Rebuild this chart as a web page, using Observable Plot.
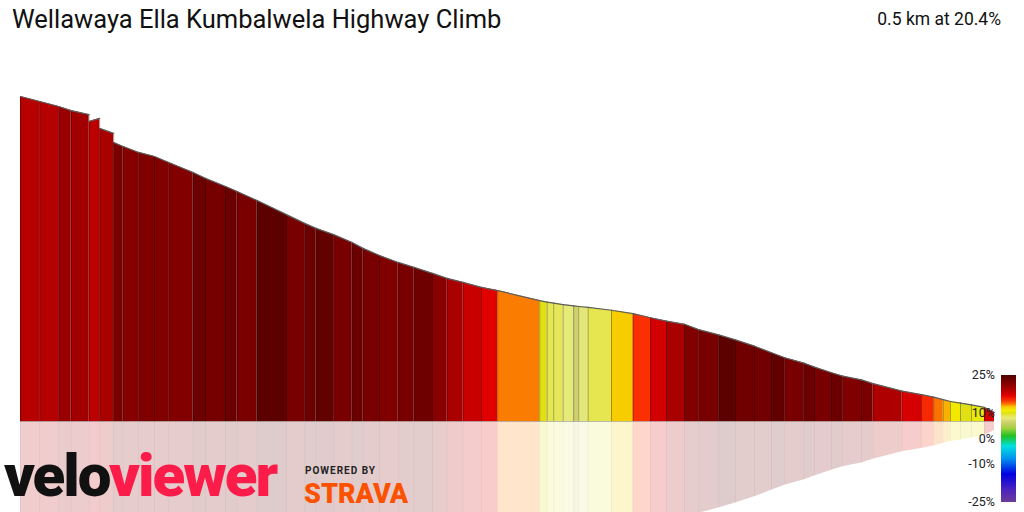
<!DOCTYPE html>
<html>
<head>
<meta charset="utf-8">
<script src="https://cdn.jsdelivr.net/npm/d3@7"></script>
<script src="https://cdn.jsdelivr.net/npm/@observablehq/plot@0.6"></script>
<style>
  html, body { margin: 0; padding: 0; background: #fff; }
  #wrap { position: relative; width: 1024px; height: 512px; overflow: hidden; font-family: Roboto, "Noto Sans", sans-serif; }
  #wrap svg { position: absolute; left: 0; top: 0; }
  .abs { position: absolute; white-space: nowrap; }
</style>
</head>
<body>
<div id="wrap"></div>
<script>
// ---- data (distance from the start of the climb in m, elevation above chart floor in m, gradient %) ----
const title = "Wellawaya Ella Kumbalwela Highway Climb";
const summary = "0.5 km at 20.4%";

// segment boundaries (m from start; start of climb is at the right)
const dist = [487, 477.4, 467.9, 461.7, 452.7, 447.4, 440.4, 435.7, 427.9, 420, 412.9, 400.7, 394.5, 384.5, 378.7, 368.7,
  354, 344.9, 339.2, 330.4, 321.2, 315.7, 307.5, 298.2, 290.2, 281, 273.7, 265.7, 256.5, 248.4, 227.4, 223.7, 220.4,
  215.7, 210.4, 207.9, 203.2, 191.5, 180.7, 172, 164, 155, 147.9, 137.9, 129.5, 120, 111.5, 104.9, 95.4, 90, 81.5,
  75.9, 66.5, 60.7, 46.2, 36.5, 30.4, 25.7, 22, 17, 11.5, 5, 0];
// elevation at the start (left edge) and end (right edge) of each segment
const elevStart = [104, 102.4, 100.8, 99.5, 96, 93.8, 89.3, 88, 86.1, 84.8, 82.9, 79.7, 77.8, 75.2, 73.6, 70.7, 66.2,
  63.4, 61.8, 59.8, 57.3, 55.4, 53.1, 50.9, 49.3, 47.4, 45.8, 44.5, 42.9, 41.9, 38.7, 38.2, 37.9, 37.4, 37.0, 36.8,
  36.5, 35.6, 34.5, 33.2, 32.1, 31.1, 29.4, 27.7, 26.1, 24.1, 22.0, 20.4, 18.7, 17.4, 15.6, 14.5, 13.3, 12.1, 9.7,
  8.6, 7.8, 7.0, 6.4, 5.9, 5.3, 4.5];
const elevEnd = [102.4, 100.8, 99.5, 98.2, 97.0, 92.2, 88, 86.1, 84.8, 82.9, 79.7, 77.8, 75.2, 73.6, 70.7, 66.2, 63.4,
  61.8, 59.8, 57.3, 55.4, 53.1, 50.9, 49.3, 47.4, 45.8, 44.5, 42.9, 41.9, 38.7, 38.2, 37.9, 37.4, 37.0, 36.8, 36.5,
  35.6, 34.5, 33.2, 32.1, 31.1, 29.4, 27.7, 26.1, 24.1, 22.0, 20.4, 18.7, 17.4, 15.6, 14.5, 13.3, 12.1, 9.7, 8.6,
  7.8, 7.0, 6.4, 5.9, 5.3, 4.5, 2.9];
const grade = [18.9, 19.0, 20.4, 19.9, 18.7, 19.6, 22.4, 21.6, 22, 21.8, 21.9, 23.3, 22.6, 23.3, 22.4, 24.2, 22.5,
  23.4, 23.8, 22.5, 23.4, 22.5, 22, 22.5, 23.1, 21.5, 19.6, 18.1, 17, 13.5, 10, 9, 8.8, 8, 6.5, 7.8, 9, 12.3, 15,
  17.6, 19.6, 22, 22.5, 24.2, 23, 22.8, 24, 22.5, 23.3, 22.5, 23.3, 22, 22.5, 19.3, 17.4, 15.3, 13.7, 12.8, 11.3,
  10, 10.5, 17.5];

// gradient colour scale stops and legend ticks
const gradeStops  = [-25, -20, -14, -8, -3, 1, 4, 6.5, 8, 9, 10, 11, 12.5, 13.5, 15, 17, 18.5, 20, 22, 24, 25];
const gradeColors = ["#6b3d9a", "#4a22c0", "#0000e0", "#0090f0", "#00e0e0", "#20c020", "#a0d040", "#d0d070",
  "#e6eb78", "#e6e650", "#e0e015", "#f0f000", "#f8c800", "#fa7c00", "#fa3000", "#e00000", "#c00000", "#a00000",
  "#800000", "#600000", "#4a0000"];
const legendTicks = [25, 10, 0, -10, -25];

// ---- build tables ----
const segs = grade.map((g, i) => ({
  seg: i, g, d0: dist[i], d1: dist[i + 1], e0: elevStart[i], e1: elevEnd[i],
  hmax: Math.max(elevStart[i], i > 0 ? elevEnd[i - 1] : 0)
}));
const rows = segs.flatMap(s => [
  {seg: s.seg, g: s.g, d: s.d0, e: s.e0},
  {seg: s.seg, g: s.g, d: s.d1, e: s.e1}
]);

const chart = Plot.plot({
  width: 1024, height: 512, margin: 0,
  x: {domain: [497, -15], axis: null},
  y: {domain: [-29.12, 134.72], axis: null},
  color: {type: "linear", domain: gradeStops, range: gradeColors, interpolate: "rgb"},
  marks: [
    // reflection
    Plot.areaY(rows, {x: "d", y1: 0, y2: r => -r.e, z: "seg", fill: "g", fillOpacity: 0.2}),
    Plot.ruleX(segs, {x: "d0", y1: 0, y2: r => -r.hmax, stroke: "#000", strokeOpacity: 0.04}),
    // profile
    Plot.areaY(rows, {x: "d", y1: 0, y2: "e", z: "seg", fill: "g"}),
    Plot.ruleX(segs, {x: "d0", y1: 0, y2: "hmax", stroke: "#000", strokeOpacity: 0.3}),
    Plot.line(rows, {x: "d", y: "e", z: "seg", stroke: "#5e5e5e", strokeWidth: 1.2}),
    Plot.ruleY([0], {x1: 0, x2: dist[0], stroke: "#000", strokeOpacity: 0.25})
  ]
});

const wrap = document.getElementById("wrap");
wrap.appendChild(chart);

function addDiv(text, style) {
  const el = document.createElement("div");
  el.className = "abs";
  el.textContent = text;
  Object.assign(el.style, style);
  wrap.appendChild(el);
  return el;
}

// title and summary
addDiv(title, {left: "12px", top: "4px", fontSize: "25.5px", color: "#111", lineHeight: "30px"});
addDiv(summary, {right: "23px", top: "7px", fontSize: "17.5px", color: "#111", lineHeight: "24px"});

// legend bar built from the same colour stops
const lgTop = 375, lgH = 127;
const gStops = gradeStops.slice().reverse().map((g, i) => {
  const c = gradeColors[gradeColors.length - 1 - i];
  return `${c} ${((25 - g) / 50 * 100).toFixed(2)}%`;
});
const bar = document.createElement("div");
bar.className = "abs";
Object.assign(bar.style, {left: "1001px", top: lgTop + "px", width: "15px", height: lgH + "px",
  background: `linear-gradient(to bottom, ${gStops.join(", ")})`});
wrap.appendChild(bar);
legendTicks.forEach(t => {
  const y = lgTop + (25 - t) / 50 * lgH;
  addDiv(t + "%", {right: "29px", top: (y - 8) + "px", fontSize: "12.5px", lineHeight: "16px", color: "#222"});
});

// logos
const logo = document.createElement("div");
logo.className = "abs";
Object.assign(logo.style, {left: "4px", top: "448px", fontSize: "60px", fontWeight: "900", lineHeight: "56px",
  letterSpacing: "-2px"});
logo.innerHTML = '<span style="color:#111">velo</span><span style="color:#fc1c49">viewer</span>';
wrap.appendChild(logo);
addDiv("POWERED BY", {left: "305px", top: "465px", fontSize: "10px", fontWeight: "700", letterSpacing: "1px",
  lineHeight: "12px", color: "#222"});
addDiv("STRAVA", {left: "304px", top: "480px", fontSize: "27px", fontWeight: "900", lineHeight: "28px",
  color: "#fc5200", letterSpacing: "0px"});
</script>
</body>
</html>
